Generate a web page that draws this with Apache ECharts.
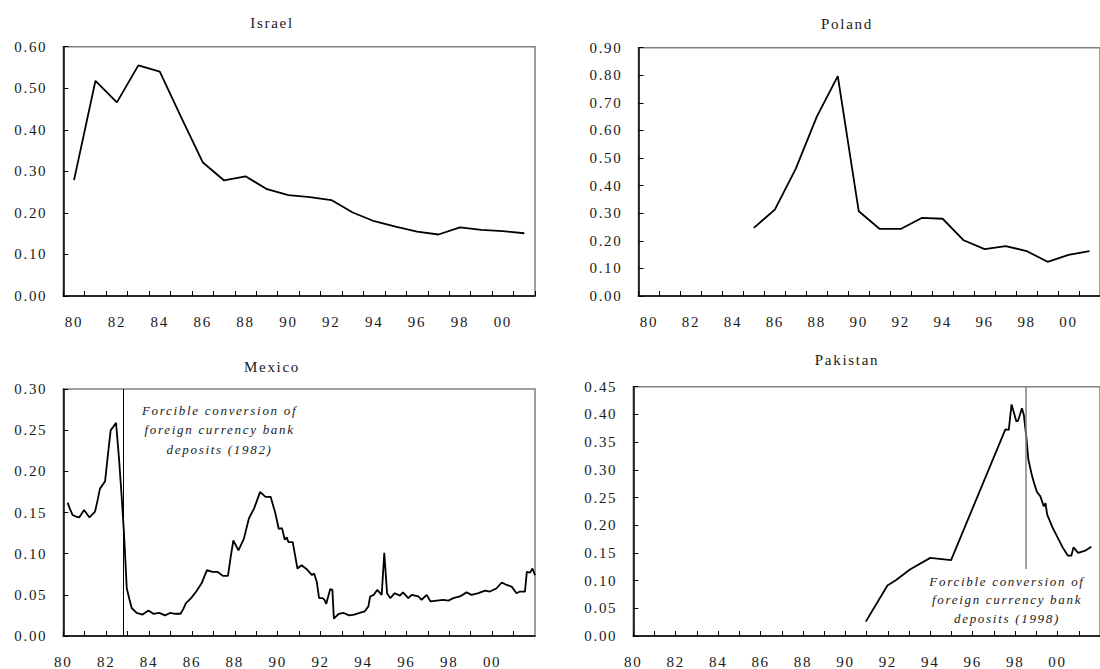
<!DOCTYPE html>
<html>
<head>
<meta charset="utf-8">
<script src="https://cdn.jsdelivr.net/npm/echarts@6/dist/echarts.min.js"></script>
<style>
  html, body { margin: 0; padding: 0; background: #fff; }
  #chart { width: 1100px; height: 669px; }
  #chart text { letter-spacing: 1.7px; font-weight: normal !important; }
</style>
</head>
<body>
<div id="chart"></div>
<script>
// ---------- data ----------
const yearCats = ['80','81','82','83','84','85','86','87','88','89','90','91','92','93','94','95','96','97','98','99','00','01'];
const israelVals = [0.279,0.518,0.466,0.555,0.540,0.430,0.322,0.278,0.288,0.257,0.243,0.238,0.231,0.201,0.180,0.167,0.155,0.148,0.165,0.159,0.156,0.151];
const polandVals = [null,null,null,null,null,0.247,0.313,0.462,0.650,0.797,0.307,0.243,0.243,0.283,0.280,0.202,0.170,0.181,0.163,0.124,0.149,0.163];

const mexicoDates = [1980.20,1980.30,1980.43,1980.60,1980.74,1980.97,1981.08,1981.22,1981.48,1981.60,1981.71,1981.95,1982.08,1982.21,1982.33,1982.46,1982.60,1982.72,1982.83,1982.96,1983.08,1983.19,1983.42,1983.70,1983.97,1984.20,1984.48,1984.74,1984.98,1985.23,1985.47,1985.60,1985.72,1985.96,1986.20,1986.45,1986.70,1986.95,1987.19,1987.44,1987.68,1987.80,1987.93,1988.17,1988.42,1988.66,1988.90,1989.18,1989.43,1989.67,1989.89,1990.05,1990.20,1990.33,1990.42,1990.50,1990.70,1990.92,1991.11,1991.36,1991.60,1991.70,1991.82,1991.93,1992.09,1992.18,1992.26,1992.45,1992.55,1992.62,1992.84,1993.08,1993.33,1993.57,1993.82,1994.06,1994.23,1994.31,1994.48,1994.64,1994.85,1994.97,1995.10,1995.25,1995.46,1995.70,1995.84,1996.09,1996.25,1996.56,1996.71,1996.95,1997.13,1997.41,1997.72,1997.96,1998.19,1998.50,1998.81,1999.04,1999.36,1999.67,1999.90,2000.21,2000.45,2000.68,2000.91,2001.14,2001.30,2001.53,2001.62,2001.77,2001.88,2002.00];
const mexicoVals = [0.162,0.155,0.147,0.145,0.144,0.153,0.149,0.144,0.151,0.165,0.179,0.188,0.220,0.250,0.254,0.259,0.215,0.170,0.125,0.058,0.045,0.034,0.028,0.026,0.031,0.027,0.028,0.025,0.028,0.027,0.027,0.033,0.040,0.046,0.054,0.064,0.080,0.078,0.078,0.073,0.073,0.095,0.116,0.104,0.118,0.143,0.155,0.175,0.169,0.169,0.149,0.130,0.131,0.117,0.120,0.114,0.114,0.082,0.086,0.081,0.074,0.076,0.066,0.046,0.046,0.044,0.039,0.057,0.056,0.021,0.027,0.028,0.025,0.026,0.028,0.030,0.036,0.048,0.050,0.056,0.050,0.101,0.052,0.046,0.052,0.049,0.053,0.046,0.050,0.048,0.044,0.050,0.042,0.043,0.044,0.043,0.046,0.048,0.053,0.050,0.052,0.055,0.054,0.058,0.065,0.062,0.060,0.052,0.054,0.054,0.078,0.077,0.082,0.074];

const pakistanDates = [1990.96,1991.98,1992.39,1993.04,1994.00,1994.98,1997.54,1997.70,1997.83,1998.06,1998.14,1998.32,1998.41,1998.54,1998.62,1998.79,1998.90,1999.03,1999.19,1999.35,1999.43,1999.51,1999.76,2000.00,2000.24,2000.49,2000.65,2000.75,2000.97,2001.30,2001.59];
const pakistanVals = [0.026,0.091,0.101,0.120,0.141,0.137,0.373,0.372,0.418,0.387,0.389,0.411,0.399,0.355,0.319,0.290,0.275,0.260,0.252,0.234,0.240,0.219,0.196,0.178,0.160,0.145,0.145,0.160,0.150,0.154,0.161];

const xTickYears  = [1980,1982,1984,1986,1988,1990,1992,1994,1996,1998,2000];
const xTickLabels = ['80','82','84','86','88','90','92','94','96','98','00'];

const israelYTicks   = [0.00,0.10,0.20,0.30,0.40,0.50,0.60];
const polandYTicks   = [0.00,0.10,0.20,0.30,0.40,0.50,0.60,0.70,0.80,0.90];
const mexicoYTicks   = [0.00,0.05,0.10,0.15,0.20,0.25,0.30];
const pakistanYTicks = [0.00,0.05,0.10,0.15,0.20,0.25,0.30,0.35,0.40,0.45];

const mexicoEvent = [1982.8];
const pakistanEvent = [1998.5, 0.45, 0.121]; // year, line top, line bottom

const titles = ['Israel','Poland','Mexico','Pakistan'];
const noteMexico = 'Forcible conversion of\nforeign currency bank\ndeposits (1982)';
const notePakistan = 'Forcible conversion of\nforeign currency bank\ndeposits (1998)';

// ---------- styling ----------
const FONT = 'Liberation Serif';
const TXT = '#1a1a1a';

function yAxisFor(ticks, gi) {
  return {
    type: 'value', gridIndex: gi,
    min: ticks[0], max: ticks[ticks.length - 1],
    interval: ticks[1] - ticks[0],
    splitLine: { show: false },
    axisLine: { show: true, lineStyle: { color: '#000', width: 1.5 } },
    axisTick: { show: true, inside: true, length: 5, lineStyle: { color: '#000', width: 1 } },
    axisLabel: { margin: 16, color: TXT, fontFamily: FONT, fontSize: 15,
      formatter: v => v.toFixed(2) }
  };
}
function catXAxis(gi) {
  return {
    type: 'category', gridIndex: gi, data: yearCats, boundaryGap: true,
    axisLine: { lineStyle: { color: '#000', width: 1.5 } },
    axisTick: { show: true, inside: true, length: 5, interval: 0, lineStyle: { color: '#000', width: 1 } },
    axisLabel: { interval: 1, margin: 18, color: TXT, fontFamily: FONT, fontSize: 15 },
    splitLine: { show: false }
  };
}
function valXAxis(gi) {
  return {
    type: 'value', gridIndex: gi, min: 1980, max: 2002, interval: 1,
    axisLine: { onZero: false, lineStyle: { color: '#000', width: 1.5 } },
    axisTick: { show: true, inside: true, length: 5, lineStyle: { color: '#000', width: 1 } },
    axisLabel: { margin: 18, color: TXT, fontFamily: FONT, fontSize: 15, showMaxLabel: false,
      formatter: v => { const i = xTickYears.indexOf(Math.round(v)); return i >= 0 ? xTickLabels[i] : ''; } },
    splitLine: { show: false }
  };
}
const gridBase = { show: true, borderColor: '#808080', borderWidth: 1.5, backgroundColor: 'transparent', containLabel: false };
const lineStyle = { color: '#000', width: 1.8 };

const chart = echarts.init(document.getElementById('chart'), null, { renderer: 'svg' });
chart.setOption({
  animation: false,
  backgroundColor: '#fff',
  title: [
    { text: titles[0], left: 272, top: 15, textAlign: 'center', padding: 0 },
    { text: titles[1], left: 847, top: 16, textAlign: 'center', padding: 0 },
    { text: titles[2], left: 272, top: 359, textAlign: 'center', padding: 0 },
    { text: titles[3], left: 847, top: 352, textAlign: 'center', padding: 0 }
  ].map(t => Object.assign(t, { textStyle: { fontFamily: FONT, fontSize: 15, fontWeight: 'normal', color: TXT } })),
  grid: [
    Object.assign({ left: 63.3, top: 46.7, width: 471.7, height: 249.3 }, gridBase),
    Object.assign({ left: 638.5, top: 47.7, width: 471.7, height: 248.3 }, gridBase),
    Object.assign({ left: 63.3, top: 389, width: 471.7, height: 247 }, gridBase),
    Object.assign({ left: 633.3, top: 386.7, width: 476.7, height: 253.3 }, gridBase)
  ],
  xAxis: [catXAxis(0), catXAxis(1), valXAxis(2), valXAxis(3)],
  yAxis: [yAxisFor(israelYTicks, 0), yAxisFor(polandYTicks, 1), yAxisFor(mexicoYTicks, 2), yAxisFor(pakistanYTicks, 3)],
  graphic: [
    { type: 'text', x: 219.6, y: 401, silent: true,
      style: { text: noteMexico, align: 'center', verticalAlign: 'top', lineHeight: 19.2,
        font: 'italic 13px "Liberation Serif"', fill: TXT } },
    { type: 'text', x: 1007, y: 572.5, silent: true,
      style: { text: notePakistan, align: 'center', verticalAlign: 'top', lineHeight: 18.3,
        font: 'italic 13px "Liberation Serif"', fill: TXT } }
  ],
  series: [
    { name: titles[0], type: 'line', xAxisIndex: 0, yAxisIndex: 0, data: israelVals,
      showSymbol: false, symbol: 'none', lineStyle, connectNulls: false },
    { name: titles[1], type: 'line', xAxisIndex: 1, yAxisIndex: 1, data: polandVals,
      showSymbol: false, symbol: 'none', lineStyle, connectNulls: false },
    { name: titles[2], type: 'line', xAxisIndex: 2, yAxisIndex: 2,
      data: mexicoDates.map((d, i) => [d, mexicoVals[i]]),
      showSymbol: false, symbol: 'none', lineStyle,
      markLine: { silent: true, symbol: ['none', 'none'], label: { show: false },
        lineStyle: { color: '#000', width: 1, type: 'solid' },
        data: [{ xAxis: mexicoEvent[0] }] } },
    { name: titles[3], type: 'line', xAxisIndex: 3, yAxisIndex: 3,
      data: pakistanDates.map((d, i) => [d, pakistanVals[i]]),
      showSymbol: false, symbol: 'none', lineStyle,
      markLine: { silent: true, symbol: ['none', 'none'], label: { show: false },
        lineStyle: { color: '#808080', width: 1.5, type: 'solid' },
        data: [[{ coord: [pakistanEvent[0], pakistanEvent[1]] }, { coord: [pakistanEvent[0], pakistanEvent[2]] }]] } }
  ]
});
</script>
</body>
</html>
